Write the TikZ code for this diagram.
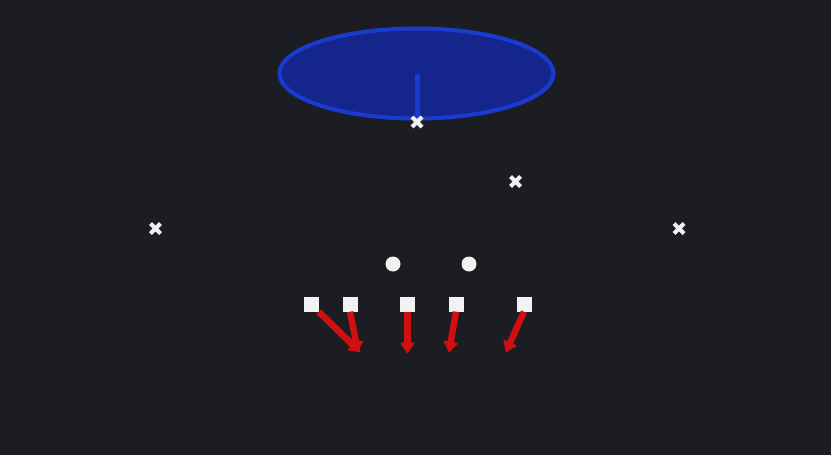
\documentclass[tikz,border=0pt]{standalone}
\usetikzlibrary{arrows.meta,shapes.geometric,calc}
\definecolor{bg}{HTML}{1B1D23}
\definecolor{zonefill}{HTML}{14258C}
\definecolor{zoneedge}{HTML}{1A3BD0}
\definecolor{routered}{HTML}{D01010}
\definecolor{markwhite}{HTML}{F2F2F2}
\tikzset{
  lineman/.style={fill=markwhite, minimum size=15pt, inner sep=0pt, draw=none},
  back/.style={circle, fill=markwhite, minimum size=15pt, inner sep=0pt},
  route/.style={draw=routered, line width=6.5pt, -{Latex[length=12pt,width=18pt,round]}},
  zone/.style={ellipse, fill=zonefill, draw=zoneedge, line width=4pt, minimum width=274pt, minimum height=90pt, inner sep=0pt},
  xline/.style={draw=markwhite, line width=4pt},
}
\newcommand{\xmk}[2]{%
  \coordinate (#1) at #2;
  \draw[xline] ($(#1)+(-5,-5)$) -- ($(#1)+(5,5)$) ($(#1)+(-5,5)$) -- ($(#1)+(5,-5)$);
}
\begin{document}
\begin{tikzpicture}[x=1pt,y=-1pt]
\fill[bg] (0,0) rectangle (831,455);
\useasboundingbox (0,0) rectangle (831,455);
% zone
\node[zone] (z) at (416.5,73.5) {};
\coordinate (dtop) at (417,76);
\coordinate (dbot) at (417,116);
\draw[zoneedge, line width=5pt, line cap=round] (dtop) -- (dbot);
% defenders
\xmk{d1}{(417,122)}
\xmk{d2}{(515.5,181.5)}
\xmk{d3}{(155.5,228.5)}
\xmk{d4}{(679,228.5)}
% backs
\node[back] (b1) at (393,264) {};
\node[back] (b2) at (469,264) {};
% linemen
\node[lineman] (l1) at (311,304) {};
\node[lineman] (l2) at (350,304) {};
\node[lineman] (l3) at (407.5,304) {};
\node[lineman] (l4) at (456,304) {};
\node[lineman] (l5) at (524,304) {};
\coordinate (e1) at (360,352);
\coordinate (e2) at (358,352);
\coordinate (e3) at (407.5,353);
\coordinate (e4) at (449,352);
\coordinate (e5) at (506,352);
\draw[route] (l1.south east) -- (e1);
\draw[route] (l2.south) -- (e2);
\draw[route] (l3.south) -- (e3);
\draw[route] (l4.south) -- (e4);
\draw[route] (l5.south) -- (e5);
\end{tikzpicture}
\end{document}
